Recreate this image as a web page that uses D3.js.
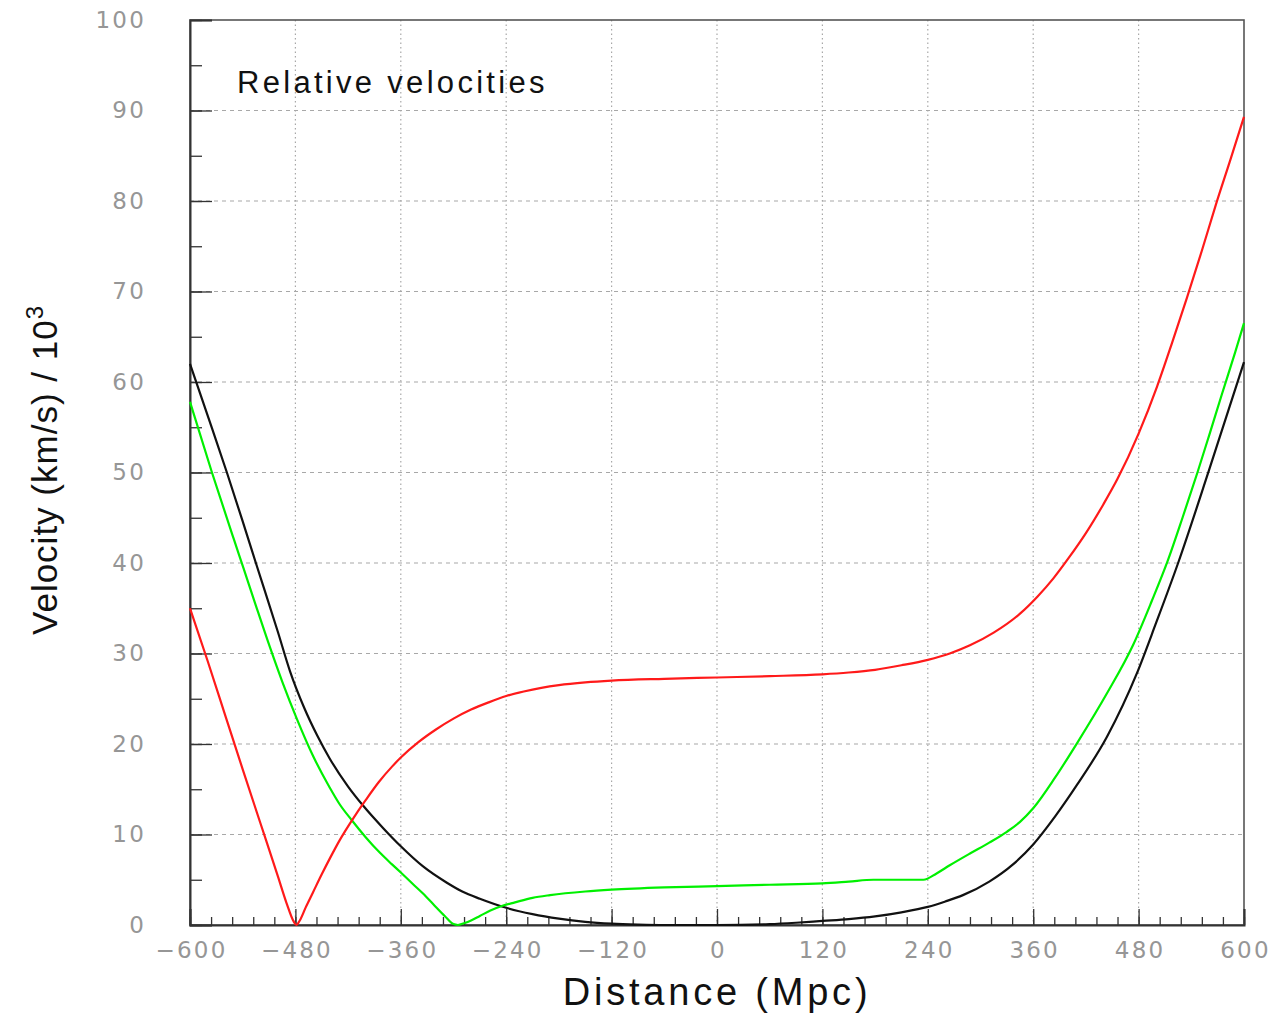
<!DOCTYPE html>
<html>
<head>
<meta charset="utf-8">
<script src="https://cdn.jsdelivr.net/npm/d3@7"></script>
<style>
  html, body { margin: 0; padding: 0; background: #fff; }
  svg { display: block; }
</style>
</head>
<body>
<svg id="chart" width="1278" height="1019"></svg>
<script>
// ---- data ----
const xMajorTicks = [-600, -480, -360, -240, -120, 0, 120, 240, 360, 480, 600];
const yMajorTicks = [0, 10, 20, 30, 40, 50, 60, 70, 80, 90, 100];

const blackX = [-600,-575,-558,-540,-525,-500,-486,-470,-455,-441,-420,-403,-380,-360,-335,-308,-290,-270,-240,-210,-180,-150,-120,-90,-60,0,60,90,120,150,180,210,240,260,280,310,337,360,385,410,444,478,500,525,560,600];
const blackY = [62.0,54.9,50.0,44.6,40.0,32.4,28.0,24.0,20.9,18.4,15.3,13.2,10.7,8.7,6.5,4.7,3.7,2.9,1.9,1.2,0.7,0.35,0.15,0.05,0.0,0.0,0.1,0.25,0.45,0.65,0.95,1.4,2.0,2.6,3.3,4.8,6.7,8.9,12.0,15.5,20.8,27.8,33.4,40.0,50.2,62.2];

const greenX = [-600,-575,-550,-539,-525,-509,-495,-478,-460,-441,-430,-416,-400,-384,-370,-360,-346,-335,-323,-310,-300,-295,-288,-280,-270,-258,-245,-230,-210,-190,-150,-120,-60,0,60,120,150,178,210,235,250,265,288,310,330,345,360,385,410,444,474,495,513,530,547,560,575,590,600];
const greenY = [57.8,50.0,42.6,39.4,35.3,30.7,26.9,22.7,18.7,15.2,13.4,11.6,9.7,8.0,6.7,5.8,4.5,3.5,2.3,1.0,0.1,0.0,0.2,0.5,1.0,1.6,2.1,2.5,3.0,3.3,3.7,3.9,4.15,4.3,4.45,4.6,4.8,5.0,5.0,5.0,5.7,6.6,7.9,9.1,10.3,11.4,12.9,16.3,20.1,25.6,31.0,35.8,40.2,45.0,50.0,54.0,58.7,63.3,66.5];

const redX = [-600,-580,-560,-540,-520,-500,-490,-482,-479,-475,-468,-460,-450,-440,-430,-420,-410,-400,-385,-370,-360,-340,-320,-300,-280,-260,-240,-220,-200,-180,-150,-120,-60,0,60,120,150,180,210,240,265,288,315,345,365,383,400,420,440,456,480,501,518,535,552,568,584,600];
const redY = [35.0,29.2,23.2,17.2,11.3,5.4,2.4,0.4,0.0,0.5,2.0,3.6,5.6,7.5,9.3,10.9,12.4,13.8,15.8,17.5,18.5,20.2,21.6,22.8,23.8,24.6,25.3,25.8,26.2,26.5,26.8,27.0,27.2,27.35,27.5,27.7,27.9,28.2,28.7,29.3,30.0,30.9,32.3,34.4,36.3,38.3,40.5,43.3,46.5,49.3,54.3,59.5,64.3,69.3,74.5,79.6,84.4,89.3];

const series = [
  { name: "black", xs: blackX, ys: blackY, color: "#111111" },
  { name: "green", xs: greenX, ys: greenY, color: "#00f000" },
  { name: "red",   xs: redX,   ys: redY,   color: "#ff1a1a" }
];

// ---- layout ----
const svg = d3.select("#chart");
const margin = { left: 190, top: 20 };
const W = 1054, H = 905;

const x = d3.scaleLinear().domain([-600, 600]).range([0, W]);
const y = d3.scaleLinear().domain([0, 100]).range([H, 0]);

const g = svg.append("g").attr("transform", `translate(${margin.left},${margin.top})`);

// grid
g.append("g").selectAll("line").data(xMajorTicks.slice(1, -1)).join("line")
  .attr("x1", d => x(d)).attr("x2", d => x(d))
  .attr("y1", 0).attr("y2", H)
  .attr("stroke", "#a8a8a8").attr("stroke-width", 1.2)
  .attr("stroke-dasharray", "1.5,3");
g.append("g").selectAll("line").data(yMajorTicks.slice(1, -1)).join("line")
  .attr("x1", 0).attr("x2", W)
  .attr("y1", d => y(d)).attr("y2", d => y(d))
  .attr("stroke", "#a8a8a8").attr("stroke-width", 1.2)
  .attr("stroke-dasharray", "4,4");

// frame
g.append("rect").attr("x", 0).attr("y", 0).attr("width", W).attr("height", H)
  .attr("fill", "none").attr("stroke", "#555").attr("stroke-width", 1.6);

const tickFont = "'DejaVu Sans', sans-serif";
const fmt = d => (d < 0 ? "\u2212" + Math.abs(d) : String(d));

// x minor ticks
const xMinor = d3.range(-600, 601, 24);
g.append("g").attr("transform", `translate(0,${H})`)
  .call(d3.axisBottom(x).tickValues(xMinor).tickSize(-8).tickFormat(""))
  .call(a => a.select(".domain").remove())
  .call(a => a.selectAll("line").attr("stroke", "#333").attr("stroke-width", 1.3));
// x major
const xAx = g.append("g").attr("transform", `translate(0,${H})`)
  .call(d3.axisBottom(x).tickValues(xMajorTicks).tickSize(-16).tickPadding(17).tickFormat(fmt));
xAx.select(".domain").attr("stroke", "#333").attr("stroke-width", 2);
xAx.selectAll("line").attr("stroke", "#333").attr("stroke-width", 1.3);
xAx.selectAll("text").attr("fill", "#969696").style("font-family", tickFont)
  .style("font-size", "23px").style("letter-spacing", "2.2px").attr("dx", "1px");

// y minor
const yMinor = d3.range(0, 101, 5);
g.append("g")
  .call(d3.axisLeft(y).tickValues(yMinor).tickSize(-12).tickFormat(""))
  .call(a => a.select(".domain").remove())
  .call(a => a.selectAll("line").attr("stroke", "#333").attr("stroke-width", 1.3));
const yAx = g.append("g")
  .call(d3.axisLeft(y).tickValues(yMajorTicks).tickSize(-22).tickPadding(44).tickFormat(fmt));
yAx.select(".domain").attr("stroke", "#333").attr("stroke-width", 2);
yAx.selectAll("line").attr("stroke", "#333").attr("stroke-width", 1.3);
yAx.selectAll("text").attr("fill", "#969696").style("font-family", tickFont)
  .style("font-size", "23px").style("letter-spacing", "2.2px");

// lines
const line = d3.line().curve(d3.curveMonotoneX).x(d => x(d[0])).y(d => y(d[1]));
series.forEach(s => {
  const pts = s.xs.map((v, i) => [v, s.ys[i]]);
  g.append("path").datum(pts)
    .attr("fill", "none").attr("stroke", s.color).attr("stroke-width", 2.2)
    .attr("stroke-linejoin", "round")
    .attr("d", line);
});

// title
const labelFont = "'Liberation Sans', Arial, sans-serif";
svg.append("text").attr("x", 237).attr("y", 93)
  .style("font-family", labelFont).style("font-size", "31px").style("letter-spacing", "3.3px")
  .attr("fill", "#111").text("Relative velocities");

// x label
svg.append("text").attr("x", 717).attr("y", 1005).attr("text-anchor", "middle")
  .style("font-family", labelFont).style("font-size", "38px").style("letter-spacing", "3.8px")
  .attr("fill", "#111").text("Distance (Mpc)");

// y label
const yl = svg.append("text").attr("transform", "translate(57,470) rotate(-90)")
  .attr("text-anchor", "middle")
  .style("font-family", labelFont).style("font-size", "35px").style("letter-spacing", "1px")
  .attr("fill", "#111");
yl.append("tspan").text("Velocity (km/s) / 10");
yl.append("tspan").attr("dy", "-14").style("font-size", "24px").text("3");
</script>
</body>
</html>
